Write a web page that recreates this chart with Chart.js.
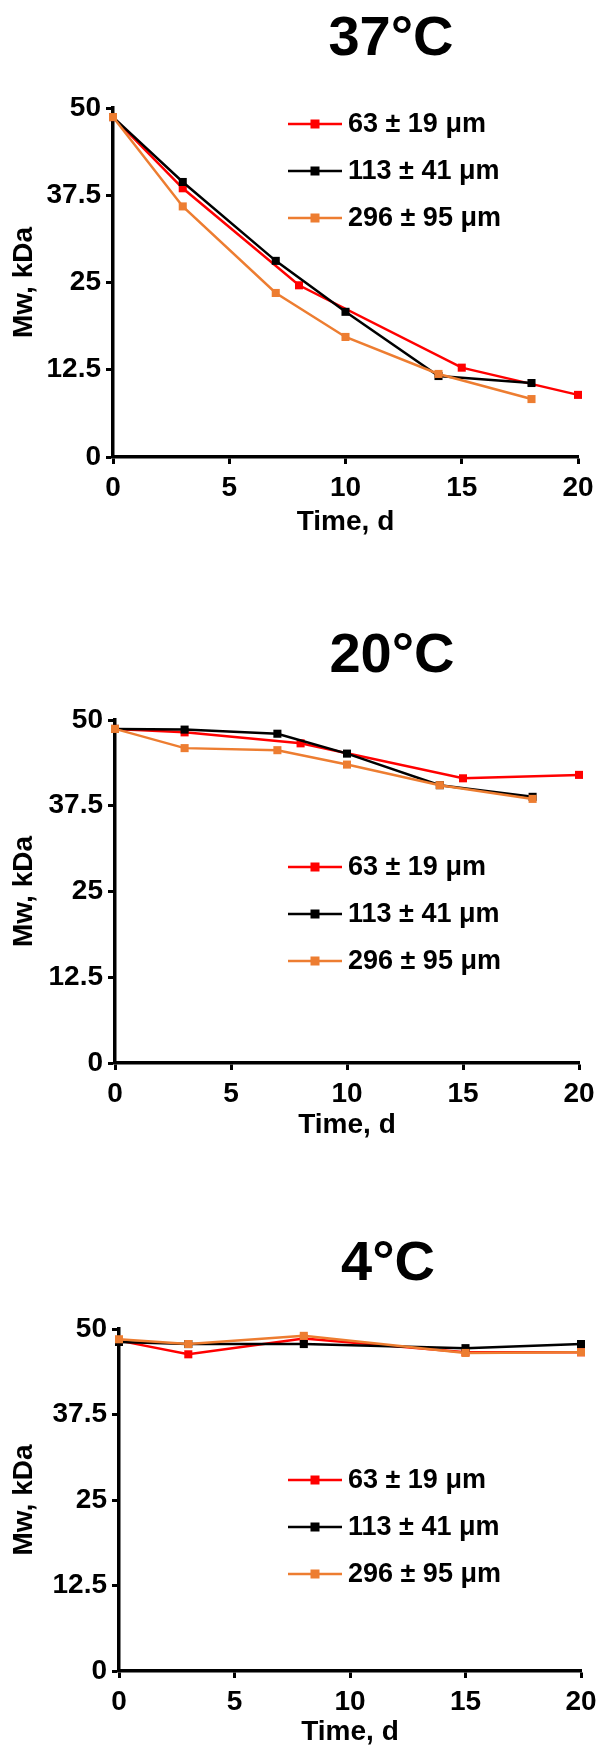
<!DOCTYPE html>
<html>
<head>
<meta charset="utf-8">
<script src="https://cdn.jsdelivr.net/npm/chart.js@4.4.1/dist/chart.umd.min.js"></script>
<style>
  html, body { margin: 0; padding: 0; background: #fff; }
  .panel { position: relative; width: 599px; height: 585px; }
  canvas { display: block; }
</style>
</head>
<body>
<div class="panel"><canvas id="c37" width="599" height="585"></canvas></div>
<div class="panel"><canvas id="c20" width="599" height="585"></canvas></div>
<div class="panel"><canvas id="c4" width="599" height="585"></canvas></div>
<script>
// --- 系列・軸 ---
const seriesLabels = ['63 ± 19 μm', '113 ± 41 μm', '296 ± 95 μm'];
const seriesColors = ['#ff0000', '#000000', '#ed7d31'];
const panelTitles  = ['37°C', '20°C', '4°C'];
const xTicks = [0, 5, 10, 15, 20];
const yTicks = [0, 12.5, 25, 37.5, 50];

// --- 37°C ---
const days37_63  = [0, 3, 8, 15, 20];
const mw37_63    = [48.7, 38.5, 24.6, 12.8, 8.9];
const days37_113 = [0, 3, 7, 10, 14, 18];
const mw37_113   = [48.7, 39.4, 28.1, 20.8, 11.6, 10.6];
const days37_296 = [0, 3, 7, 10, 14, 18];
const mw37_296   = [48.7, 35.9, 23.5, 17.2, 11.9, 8.3];

// --- 20°C ---
const days20_63  = [0, 3, 8, 15, 20];
const mw20_63    = [48.7, 48.2, 46.6, 41.5, 42.0];
const days20_113 = [0, 3, 7, 10, 14, 18];
const mw20_113   = [48.7, 48.6, 48.0, 45.1, 40.5, 38.8];
const days20_296 = [0, 3, 7, 10, 14, 18];
const mw20_296   = [48.7, 45.9, 45.6, 43.5, 40.5, 38.5];

// --- 4°C ---
const days4_63  = [0, 3, 8, 15, 20];
const mw4_63    = [48.3, 46.3, 48.6, 46.6, 46.6];
const days4_113 = [0, 3, 8, 15, 20];
const mw4_113   = [48.1, 47.8, 47.8, 47.2, 47.8];
const days4_296 = [0, 3, 8, 15, 20];
const mw4_296   = [48.5, 47.8, 49.0, 46.5, 46.6];

Chart.defaults.font.family = "'Liberation Sans', Arial, sans-serif";
Chart.defaults.color = '#000';

// パネル見出しとプロット内の凡例
const panelDecor = {
    id: 'panelDecor',
    afterDraw(chart, args, opts) {
        const ctx = chart.ctx;
        ctx.save();
        ctx.fillStyle = '#000';
        ctx.font = "bold 56px 'Liberation Sans', Arial, sans-serif";
        ctx.textAlign = 'center';
        ctx.textBaseline = 'alphabetic';
        ctx.fillText(opts.heading, opts.headingX, opts.headingY);

        ctx.font = "bold 27px 'Liberation Sans', Arial, sans-serif";
        ctx.textAlign = 'left';
        ctx.textBaseline = 'middle';
        chart.data.datasets.forEach((ds, i) => {
            const y = opts.legendY + i * 47;
            const x = opts.legendX;
            ctx.strokeStyle = ds.borderColor;
            ctx.lineWidth = 2.5;
            ctx.beginPath();
            ctx.moveTo(x, y);
            ctx.lineTo(x + 54, y);
            ctx.stroke();
            ctx.fillStyle = ds.borderColor;
            ctx.fillRect(x + 22.5, y - 4.5, 9, 9);
            ctx.fillStyle = '#000';
            ctx.fillText(ds.label, x + 60, y + 1);
        });
        ctx.restore();
    }
};

function series(days, vals, i) {
    return {
        label: seriesLabels[i],
        data: days.map((d, k) => ({ x: d, y: vals[k] })),
        borderColor: seriesColors[i],
        backgroundColor: seriesColors[i],
        borderWidth: 2.5,
        pointStyle: 'rect',
        pointRadius: 5.7,
        pointBorderWidth: 0,
        tension: 0,
        clip: false,
        order: 2 - i   // 橙が最前面
    };
}

function makePanel(id, datasets, L, heading) {
    return new Chart(document.getElementById(id), {
        type: 'line',
        data: { datasets },
        plugins: [panelDecor],
        options: {
            responsive: false,
            animation: false,
            layout: { padding: { left: 0, top: L.top, right: L.right, bottom: L.bottom } },
            plugins: {
                legend: { display: false },
                tooltip: { enabled: false },
                panelDecor: {
                    heading,
                    headingX: L.headX, headingY: L.headY,
                    legendX: 288, legendY: L.legY
                }
            },
            scales: {
                x: {
                    type: 'linear', min: 0, max: 20,
                    afterBuildTicks: s => { s.ticks = xTicks.map(v => ({ value: v })); },
                    afterFit: s => { s.height = L.xH; s.paddingLeft = 0; s.paddingRight = 0; },
                    border: { color: '#000', width: 3.5 },
                    grid: { drawOnChartArea: false, drawTicks: true, tickLength: 7, tickWidth: 3, tickColor: '#000' },
                    ticks: { color: '#000', font: { size: 28, weight: 'bold' }, padding: 7, maxRotation: 0 },
                    title: { display: true, text: 'Time, d', color: '#000',
                             font: { size: 28, weight: 'bold', lineHeight: 1 }, padding: 0 }
                },
                y: {
                    type: 'linear', min: 0, max: 50,
                    afterBuildTicks: s => { s.ticks = yTicks.map(v => ({ value: v })); },
                    afterFit: s => { s.width = L.left; },
                    border: { color: '#000', width: 3.5 },
                    grid: { drawOnChartArea: false, drawTicks: true, tickLength: 7, tickWidth: 3, tickColor: '#000' },
                    ticks: { color: '#000', font: { size: 28, weight: 'bold' }, padding: 5 },
                    title: { display: true, text: 'Mw, kDa', color: '#000',
                             font: { size: 28, weight: 'bold', lineHeight: 1 }, padding: { top: 10, bottom: 0 } }
                }
            }
        }
    });
}

makePanel('c37', [
    series(days37_63, mw37_63, 0),
    series(days37_113, mw37_113, 1),
    series(days37_296, mw37_296, 2)
], { left: 113, right: 21, top: 108, bottom: 49, xH: 79, headX: 391, headY: 55, legY: 124 }, panelTitles[0]);

makePanel('c20', [
    series(days20_63, mw20_63, 0),
    series(days20_113, mw20_113, 1),
    series(days20_296, mw20_296, 2)
], { left: 115, right: 20, top: 135, bottom: 31, xH: 76, headX: 392, headY: 87, legY: 282 }, panelTitles[1]);

makePanel('c4', [
    series(days4_63, mw4_63, 0),
    series(days4_113, mw4_113, 1),
    series(days4_296, mw4_296, 2)
], { left: 119, right: 18, top: 159, bottom: 9, xH: 75, headX: 388, headY: 110, legY: 310 }, panelTitles[2]);
</script>
</body>
</html>
